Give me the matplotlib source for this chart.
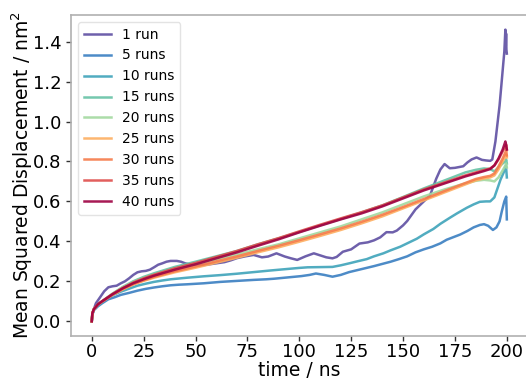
"""Mean squared displacement vs. simulation time for increasing numbers of runs."""

import matplotlib
matplotlib.use("Agg")
import matplotlib.pyplot as plt

# --- Data ---
labels = ["1 run", "5 runs", "10 runs", "15 runs", "20 runs",
          "25 runs", "30 runs", "35 runs", "40 runs"]
colors = ["#5e4fa2", "#3a7fc1", "#3ea3ba", "#66c2a5", "#a3d9a0",
          "#fdae61", "#f67b4a", "#df4e4c", "#9e0142"]

t_1 = [0, 0.3, 1, 2, 4, 6, 8, 10, 12, 14, 16, 18, 20, 22, 24, 26, 28, 30,
       32, 34, 36, 38, 41, 43, 45, 47, 50, 53, 56, 60, 64, 67, 70, 74, 78,
       82, 85, 89, 93, 96, 99, 103, 107, 110, 113, 116, 118, 121, 125, 129,
       133, 136, 139, 142, 145, 147, 150, 152, 156, 160, 163, 166, 168, 170,
       172.5, 175, 179, 181, 183, 185.4, 188, 190, 192, 193, 194.5, 195.5,
       196.5, 197.4, 198.2, 198.8, 199.3, 199.5, 199.65, 199.8, 200]
msd_1 = [0, 0.03, 0.06, 0.09, 0.12, 0.15, 0.17, 0.175, 0.178, 0.19, 0.2,
         0.215, 0.232, 0.245, 0.25, 0.252, 0.258, 0.27, 0.283, 0.29, 0.298,
         0.302, 0.302, 0.298, 0.29, 0.285, 0.282, 0.28, 0.284, 0.29, 0.296,
         0.305, 0.316, 0.325, 0.332, 0.32, 0.324, 0.34, 0.324, 0.315, 0.307,
         0.325, 0.34, 0.33, 0.32, 0.315, 0.322, 0.348, 0.36, 0.389, 0.395,
         0.405, 0.42, 0.446, 0.445, 0.454, 0.48, 0.502, 0.56, 0.6, 0.63,
         0.714, 0.76, 0.787, 0.766, 0.768, 0.776, 0.795, 0.81, 0.82, 0.808,
         0.805, 0.803, 0.81, 0.9, 0.99, 1.08, 1.185, 1.28, 1.35, 1.46, 1.38,
         1.44, 1.36, 1.34]

t_5 = [0, 0.3, 1, 3, 5, 8, 11, 14, 18, 22, 26, 30, 34, 38, 42, 46, 54, 62,
       70, 78, 84, 88, 93, 98, 101, 105, 108, 112, 116, 120, 124, 128, 132,
       136, 140, 144, 148, 152, 156, 160, 164, 168, 171, 174, 177.5, 181,
       184, 187, 189, 191, 193.3, 195, 196.5, 197.6, 198.8, 199.7, 200]
msd_5 = [0, 0.035, 0.055, 0.075, 0.09, 0.11, 0.12, 0.132, 0.142, 0.153,
         0.162, 0.169, 0.175, 0.18, 0.183, 0.185, 0.19, 0.197, 0.202, 0.207,
         0.21, 0.213, 0.218, 0.223, 0.226, 0.232, 0.239, 0.232, 0.223, 0.232,
         0.246, 0.256, 0.266, 0.276, 0.287, 0.298, 0.311, 0.325, 0.345,
         0.36, 0.373, 0.39, 0.408, 0.42, 0.434, 0.452, 0.47, 0.482, 0.486,
         0.478, 0.457, 0.47, 0.5, 0.551, 0.6, 0.624, 0.51]

t_10 = [0, 0.3, 1, 3, 5, 8, 11, 14, 18, 22, 26, 30, 34, 38, 42, 46, 54, 62,
        70, 78, 86, 94.6, 100, 104, 110, 116, 120, 124.5, 128, 132.5, 136,
        140.5, 144, 148.6, 152, 156.6, 160, 164.6, 168, 172.7, 176, 180.7,
        184, 187, 190, 192, 194, 195.5, 197, 198.5, 199.6, 200]
msd_10 = [0, 0.038, 0.058, 0.08, 0.095, 0.12, 0.135, 0.148, 0.163, 0.178,
          0.188, 0.197, 0.204, 0.21, 0.214, 0.218, 0.225, 0.231, 0.238,
          0.246, 0.254, 0.262, 0.267, 0.27, 0.271, 0.272, 0.28, 0.291,
          0.3, 0.311, 0.325, 0.34, 0.355, 0.373, 0.39, 0.413, 0.435, 0.462,
          0.488, 0.519, 0.54, 0.568, 0.585, 0.598, 0.6, 0.6, 0.62, 0.665,
          0.71, 0.745, 0.779, 0.72]

t_grid = [0, 0.3, 1, 3, 5, 10, 15, 20, 25, 30, 40, 50, 60, 70, 80, 90, 100,
          110, 120, 130, 140, 150, 160, 170, 180, 185, 189, 192, 194, 196,
          198, 199.3, 199.7, 200]
msd_15 = [0, 0.04, 0.06, 0.085, 0.1, 0.138, 0.172, 0.2, 0.222, 0.24, 0.272,
          0.298, 0.325, 0.352, 0.385, 0.415, 0.447, 0.48, 0.512, 0.545,
          0.58, 0.622, 0.665, 0.705, 0.745, 0.758, 0.765, 0.762, 0.75,
          0.77, 0.79, 0.8, 0.81, 0.79]
msd_20 = [0, 0.04, 0.06, 0.085, 0.1, 0.137, 0.17, 0.196, 0.216, 0.233,
          0.262, 0.285, 0.31, 0.335, 0.36, 0.385, 0.415, 0.445, 0.475,
          0.51, 0.545, 0.585, 0.625, 0.66, 0.69, 0.703, 0.708, 0.705, 0.7,
          0.72, 0.755, 0.78, 0.79, 0.77]
msd_25 = [0, 0.04, 0.06, 0.084, 0.098, 0.132, 0.16, 0.184, 0.202, 0.218,
          0.245, 0.268, 0.293, 0.318, 0.345, 0.37, 0.398, 0.427, 0.457,
          0.49, 0.525, 0.565, 0.605, 0.645, 0.685, 0.705, 0.715, 0.72,
          0.73, 0.76, 0.8, 0.825, 0.835, 0.82]
msd_30 = [0, 0.04, 0.06, 0.084, 0.099, 0.133, 0.162, 0.186, 0.205, 0.222,
          0.25, 0.274, 0.3, 0.325, 0.352, 0.378, 0.406, 0.435, 0.465,
          0.498, 0.533, 0.572, 0.612, 0.652, 0.692, 0.712, 0.722, 0.728,
          0.74, 0.775, 0.815, 0.845, 0.855, 0.83]
msd_35 = [0, 0.04, 0.06, 0.085, 0.1, 0.136, 0.167, 0.194, 0.215, 0.233,
          0.265, 0.292, 0.322, 0.352, 0.385, 0.416, 0.45, 0.483, 0.515,
          0.546, 0.58, 0.62, 0.66, 0.695, 0.73, 0.745, 0.757, 0.765, 0.78,
          0.81, 0.85, 0.875, 0.885, 0.86]
msd_40 = [0, 0.04, 0.06, 0.085, 0.1, 0.135, 0.165, 0.19, 0.21, 0.228,
          0.258, 0.285, 0.315, 0.345, 0.378, 0.41, 0.445, 0.478, 0.51, 0.54,
          0.575, 0.615, 0.655, 0.69, 0.725, 0.74, 0.752, 0.762, 0.78, 0.815,
          0.86, 0.9, 0.88, 0.86]

times = [t_1, t_5, t_10, t_grid, t_grid, t_grid, t_grid, t_grid, t_grid]
series = [msd_1, msd_5, msd_10, msd_15, msd_20, msd_25, msd_30, msd_35, msd_40]


def main():
    fig = plt.figure(figsize=(5.26, 3.86), dpi=100)
    ax = fig.add_axes([0.135, 0.13, 0.868, 0.831])

    for t, y, lab, c in zip(times, series, labels, colors):
        ax.plot(t, y, color=c, lw=1.8, alpha=0.9, label=lab)

    ax.set_xlabel("time / ns", fontsize=13.5, labelpad=0)
    ax.set_ylabel("Mean Squared Displacement / nm$^2$", fontsize=13.5, labelpad=-1.5)
    ax.tick_params(labelsize=13, length=3.5, width=1, color="#333333")
    ax.tick_params(axis="x", pad=1.5)
    ax.set_xticks([0, 25, 50, 75, 100, 125, 150, 175, 200])
    ax.set_yticks([0.0, 0.2, 0.4, 0.6, 0.8, 1.0, 1.2, 1.4])
    ax.set_xlim(-10, 210)
    ax.set_ylim(-0.073, 1.533)
    for side in ax.spines.values():
        side.set_color("#b0b0b0")
        side.set_linewidth(1.2)

    leg = ax.legend(loc="upper left", fontsize=10, frameon=True)
    leg.get_frame().set_edgecolor("#dddddd")

    fig.savefig("out.png", dpi=100)
    plt.close(fig)


if __name__ == "__main__":
    main()
